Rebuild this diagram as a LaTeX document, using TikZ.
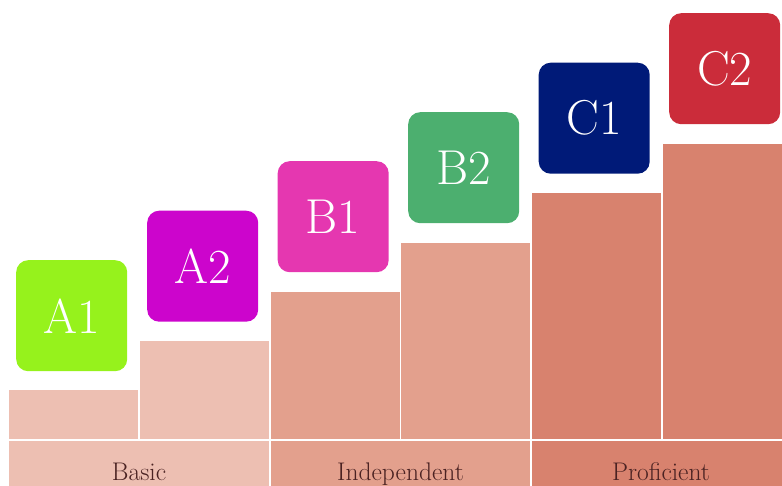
\documentclass[tikz,border=0pt]{standalone}
\definecolor{barA}{HTML}{EDBFB2}
\definecolor{barB}{HTML}{E3A08D}
\definecolor{barC}{HTML}{D8826E}
\definecolor{cA1}{HTML}{96F21C}
\definecolor{cA2}{HTML}{CC05CC}
\definecolor{cB1}{HTML}{E537B0}
\definecolor{cB2}{HTML}{4CAF6F}
\definecolor{cC1}{HTML}{001A78}
\definecolor{cC2}{HTML}{CB2C3A}
\definecolor{txtbrown}{HTML}{4A2222}
\begin{document}
\begin{tikzpicture}[x=1pt,y=-1pt,
  barshape/.style={draw=white, line width=1.2pt},
  lvl/.style={rounded corners=12pt, minimum width=111pt, minimum height=111pt, inner sep=0pt,
    text=white, font=\fontsize{49}{49}\selectfont, anchor=north west},
  bandlabel/.style={font=\fontsize{25.5}{26}\selectfont, text=txtbrown, anchor=base}]
\useasboundingbox (0,0) rectangle (782,486);
% bars
\filldraw[barshape, fill=barA] (8,389) rectangle (139,440);
\filldraw[barshape, fill=barA] (139,340) rectangle (270,440);
\filldraw[barshape, fill=barB] (270,291) rectangle (400.5,440);
\filldraw[barshape, fill=barB] (400.5,242) rectangle (531,440);
\filldraw[barshape, fill=barC] (531,192) rectangle (662,440);
\filldraw[barshape, fill=barC] (662,143) rectangle (795,440);
% band
\filldraw[barshape, fill=barA] (8,440) rectangle (270,495);
\filldraw[barshape, fill=barB] (270,440) rectangle (531,495);
\filldraw[barshape, fill=barC] (531,440) rectangle (795,495);
\node[bandlabel] (basic) at (139,480) {Basic};
\node[bandlabel] (indep) at (400.5,480) {Independent};
\node[bandlabel] (prof) at (661,480) {Proficient};
% level boxes
\node[lvl, fill=cA1] (A1) at (16,260) {A1};
\node[lvl, fill=cA2] (A2) at (147,210.5) {A2};
\node[lvl, fill=cB1] (B1) at (277.5,161) {B1};
\node[lvl, fill=cB2] (B2) at (408,112) {B2};
\node[lvl, fill=cC1] (C1) at (538.5,62.5) {C1};
\node[lvl, fill=cC2] (C2) at (669,13) {C2};
\end{tikzpicture}
\end{document}
